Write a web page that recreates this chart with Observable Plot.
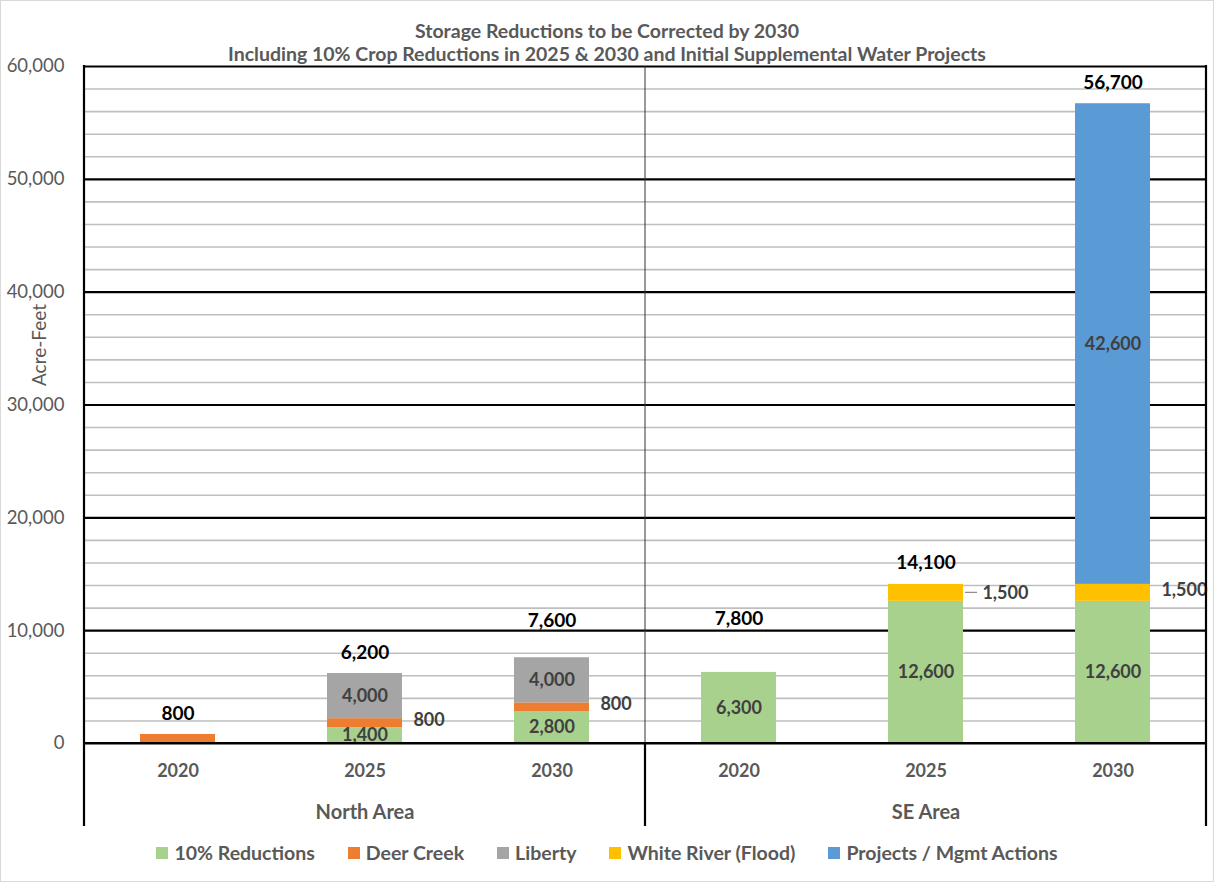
<!DOCTYPE html>
<html>
<head>
<meta charset="utf-8">
<script src="https://cdn.jsdelivr.net/npm/d3@7"></script>
<script src="https://cdn.jsdelivr.net/npm/@observablehq/plot@0.6"></script>
<style>
  body { margin: 0; background: #fff; font-family: Lato, "Open Sans", sans-serif; }
  #wrap { width: 1212px; height: 880px; border: 1px solid #d9d9d9; position: relative; overflow: hidden; background: #fff; }
  #chart { position: absolute; top: 56px; left: 0; }
  #title { position: absolute; left: 0; top: 18px; width: 1212px; text-align: center;
           font-weight: bold; color: #595959; font-size: 19.5px; line-height: 23px; }
  #ylabel { position: absolute; left: 37px; top: 344px; transform: translate(-50%, -50%) rotate(-90deg);
            color: #595959; font-size: 19px; white-space: nowrap; }
  #legend { position: absolute; top: 840px; left: 0; width: 1212px; display: flex;
            justify-content: center; gap: 33px; font-weight: bold; color: #595959; font-size: 19.5px; line-height: 24px; }
  #legend .item { display: flex; align-items: center; }
  #legend .sw { width: 12px; height: 12px; margin-right: 6px; display: inline-block; }
</style>
</head>
<body>
<div id="wrap">
  <div id="chart"></div>
  <div id="title">Storage Reductions to be Corrected by 2030<br>Including 10% Crop Reductions in 2025 &amp; 2030 and Initial Supplemental Water Projects</div>
  <div id="ylabel">Acre-Feet</div>
  <div id="legend"></div>
</div>
<script>
// Categories: area group and year
const areas = ["North Area", "North Area", "North Area", "SE Area", "SE Area", "SE Area"];
const years = ["2020", "2025", "2030", "2020", "2025", "2030"];

// Stacked series (acre-feet), bottom to top
const seriesNames = ["10% Reductions", "Deer Creek", "Liberty", "White River (Flood)", "Projects / Mgmt Actions"];
const seriesColors = ["#a9d18e", "#ed7d31", "#a5a5a5", "#ffc000", "#5b9bd5"];
const reductions = [0, 1400, 2800, 6300, 12600, 12600];
const deerCreek  = [800, 800, 800, 0, 0, 0];
const liberty    = [0, 4000, 4000, 0, 0, 0];
const whiteRiver = [0, 0, 0, 0, 1500, 1500];
const projects   = [0, 0, 0, 0, 0, 42600];

// Total labels shown above each column
const totals = [800, 6200, 7600, 7800, 14100, 56700];

// Axis ticks
const majorTicks = [0, 10000, 20000, 30000, 40000, 50000, 60000];
const minorTicks = [2000, 4000, 6000, 8000, 12000, 14000, 16000, 18000, 22000, 24000, 26000, 28000,
                    32000, 34000, 36000, 38000, 42000, 44000, 46000, 48000, 52000, 54000, 56000, 58000];
const groupNames = ["North Area", "SE Area"];

const keys = areas.map((a, i) => a + " " + years[i]);
const yearOf = new Map(keys.map((k, i) => [k, years[i]]));
const seriesValues = [reductions, deerCreek, liberty, whiteRiver, projects];

const rows = [];
seriesNames.forEach((s, si) => {
  seriesValues[si].forEach((v, i) => rows.push({key: keys[i], series: s, value: v, cat: i}));
});
const nonZeroCount = keys.map((_, i) => seriesValues.filter(sv => sv[i] > 0).length);
const sideSeries = new Set(["Deer Creek", "White River (Flood)"]);
const isSide = d => sideSeries.has(d.series) && d.value > 0 && nonZeroCount[d.cat] > 1;
const isInside = d => !sideSeries.has(d.series) && d.value > 0;
const fmt = d3.format(",");

const totalRows = totals.map((t, i) => ({key: keys[i], total: t}));
const raisedTotals = new Set(["North Area 2030", "SE Area 2020"]);
// the SE 2025 flood label sits a little further out, joined by a leader line
const leaderKey = "SE Area 2025";

// Layout
const width = 1212, height = 780;
const marginLeft = 83, marginRight = 7, marginTop = 9, marginBottom = 94;
const step = (width - marginLeft - marginRight) / keys.length;
const barWidth = step * 0.4;
const labelFont = "Lato, 'Open Sans', sans-serif";
const valueStyle = {fill: "#404040", fontWeight: "bold", fontSize: 18};

const chart = Plot.plot({
  width, height, marginLeft, marginRight, marginTop, marginBottom,
  style: {fontFamily: labelFont, fontSize: "18px", background: "transparent", overflow: "visible"},
  x: {domain: keys, paddingInner: 0.6, paddingOuter: 0.3, axis: null},
  y: {domain: [0, 60000], axis: null},
  color: {domain: seriesNames, range: seriesColors},
  marks: [
    Plot.ruleY(minorTicks, {stroke: "#bfbfbf", strokeWidth: 1.6}),
    Plot.ruleY(majorTicks, {stroke: "#000", strokeWidth: 2.2}),
    Plot.axisY({ticks: majorTicks, tickSize: 0, tickPadding: 20, tickFormat: fmt, fill: "#595959",
                fontSize: 18.5, label: null}),
    Plot.axisX({tickSize: 0, tickPadding: 21, tickFormat: k => yearOf.get(k), fill: "#595959",
                fontSize: 18, fontWeight: "bold", label: null}),
    Plot.barY(rows, {x: "key", y: "value", z: "series", fill: "series"}),
    Plot.text(rows, Plot.stackY({x: "key", y: "value", z: "series",
      text: d => isInside(d) ? fmt(d.value) : "", ...valueStyle})),
    Plot.text(rows, Plot.stackY({x: "key", y: "value", z: "series",
      text: d => isSide(d) && d.key !== leaderKey ? fmt(d.value) : "",
      ...valueStyle, textAnchor: "start", dx: barWidth / 2 + 11, dy: -3})),
    Plot.text(rows, Plot.stackY({x: "key", y: "value", z: "series",
      text: d => isSide(d) && d.key === leaderKey ? fmt(d.value) : "",
      ...valueStyle, textAnchor: "start", dx: barWidth / 2 + 19})),
    Plot.text(totalRows.filter(d => !raisedTotals.has(d.key)), {x: "key", y: "total", text: d => fmt(d.total),
      fill: "#000", fontWeight: "bold", fontSize: 19, dy: -21}),
    Plot.text(totalRows.filter(d => raisedTotals.has(d.key)), {x: "key", y: "total", text: d => fmt(d.total),
      fill: "#000", fontWeight: "bold", fontSize: 19, dy: -37}),
    Plot.text(groupNames, {x: g => keys[areas.indexOf(g) + 1], text: d => d, frameAnchor: "bottom",
      lineAnchor: "middle", dy: 69, fill: "#595959", fontWeight: "bold", fontSize: 20})
  ]
});

// Frame, group dividers and leader line, placed from the scales
const svg = d3.select(chart);
const yS = chart.scale("y"), xS = chart.scale("x");
const y0 = yS.apply(0), yTop = yS.apply(60000), yEnd = y0 + 83;
const bw = xS.bandwidth;
const xDiv = (xS.apply(keys[2]) + bw + xS.apply(keys[3])) / 2;
const xL = marginLeft, xR = width - marginRight;
const deco = svg.append("g").attr("stroke", "#000").attr("fill", "none");
deco.append("line").attr("x1", xL).attr("x2", xL).attr("y1", yTop - 1).attr("y2", yEnd).attr("stroke-width", 2.2);
deco.append("line").attr("x1", xR).attr("x2", xR).attr("y1", yTop - 1).attr("y2", yEnd).attr("stroke-width", 2.2);
deco.append("line").attr("x1", xDiv).attr("x2", xDiv).attr("y1", yTop).attr("y2", y0).attr("stroke-width", 1).attr("stroke", "#333");
deco.append("line").attr("x1", xDiv).attr("x2", xDiv).attr("y1", y0).attr("y2", yEnd).attr("stroke-width", 2.2);
deco.append("line").attr("x1", xL).attr("x2", xR).attr("y1", y0).attr("y2", y0).attr("stroke-width", 2.2);
{
  const i = keys.indexOf(leaderKey);
  const base = seriesValues.slice(0, 3).reduce((s, sv) => s + sv[i], 0);
  const yMid = yS.apply(base + whiteRiver[i] / 2);
  const xEdge = xS.apply(leaderKey) + bw;
  deco.append("line").attr("x1", xEdge + 2).attr("x2", xEdge + 14).attr("y1", yMid).attr("y2", yMid)
    .attr("stroke", "#8c8c8c").attr("stroke-width", 1.2);
}

document.getElementById("chart").appendChild(chart);

// Legend
const legend = d3.select("#legend");
seriesNames.forEach((s, i) => {
  const item = legend.append("div").attr("class", "item");
  item.append("span").attr("class", "sw").style("background", seriesColors[i]);
  item.append("span").text(s);
});
</script>
</body>
</html>
